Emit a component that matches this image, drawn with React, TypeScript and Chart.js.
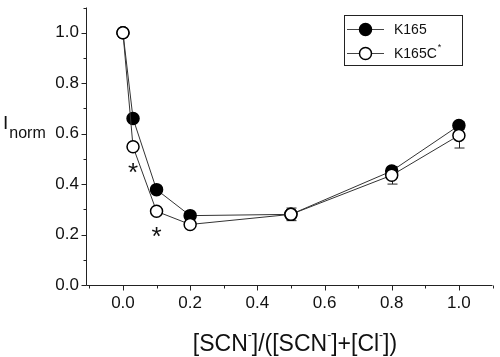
import React, { useEffect, useRef } from "react";
import { Chart, registerables } from "chart.js";
Chart.register(...registerables);

const xValues = [0, 0.03, 0.1, 0.2, 0.5, 0.8, 1.0];
const k165Values = [1.0, 0.66, 0.378, 0.275, 0.28, 0.452, 0.632];
const k165cValues = [1.0, 0.548, 0.292, 0.24, 0.28, 0.435, 0.593];
const k165Errors = [0, 0, 0, 0, 0.01, 0.015, 0.015];
const k165cErrors = [0, 0, 0, 0, 0.025, 0.035, 0.05];
const seriesNames = ["K165", "K165C"];
const xTickValues = [0, 0.2, 0.4, 0.6, 0.8, 1.0];
const yTickValues = [0, 0.2, 0.4, 0.6, 0.8, 1.0];
const minorTickValues = [-0.1, 0, 0.1, 0.2, 0.3, 0.4, 0.5, 0.6, 0.7, 0.8, 0.9, 1.0, 1.1];
const asteriskX = [0.03, 0.1];

const FONT = "'Liberation Sans', Arial, sans-serif";
const INK = "#111";

const overlay = {
  id: "overlay",
  beforeDatasetsDraw(chart: any) {
    const { ctx, chartArea, scales } = chart;
    const xs = scales.x;
    const ys = scales.y;
    ctx.save();
    ctx.strokeStyle = "#222";
    ctx.lineWidth = 1;
    const ax = Math.round(chartArea.left) + 0.5;
    const ay = Math.round(chartArea.bottom) + 0.5;
    ctx.beginPath();
    ctx.moveTo(ax, chartArea.top);
    ctx.lineTo(ax, ay);
    ctx.lineTo(chartArea.right, ay);
    ctx.stroke();
    minorTickValues.forEach((v) => {
      const major = Math.abs(Math.round(v * 10) % 2) === 0;
      const len = major ? 5 : 3;
      if (v >= ys.min - 1e-9 && v <= ys.max + 1e-9) {
        const py = Math.round(ys.getPixelForValue(v)) + 0.5;
        ctx.beginPath();
        ctx.moveTo(ax, py);
        ctx.lineTo(ax - len, py);
        ctx.stroke();
      }
      if (v >= xs.min && v <= xs.max) {
        const px = Math.round(xs.getPixelForValue(v)) + 0.5;
        ctx.beginPath();
        ctx.moveTo(px, ay);
        ctx.lineTo(px, ay + len);
        ctx.stroke();
      }
    });
    const drawErr = (vals: number[], errs: number[]) => {
      xValues.forEach((x, i) => {
        const e = errs[i];
        if (!e) return;
        const px = Math.round(xs.getPixelForValue(x)) + 0.5;
        const top = ys.getPixelForValue(vals[i] + e);
        const bot = ys.getPixelForValue(vals[i] - e);
        ctx.beginPath();
        ctx.moveTo(px, top);
        ctx.lineTo(px, bot);
        ctx.moveTo(px - 5, top);
        ctx.lineTo(px + 5, top);
        ctx.moveTo(px - 5, bot);
        ctx.lineTo(px + 5, bot);
        ctx.stroke();
      });
    };
    drawErr(k165Values, k165Errors);
    drawErr(k165cValues, k165cErrors);
    ctx.restore();
  },
  afterDraw(chart: any) {
    const { ctx, chartArea, scales } = chart;
    const xs = scales.x;
    const ys = scales.y;
    ctx.save();
    ctx.fillStyle = INK;
    // asterisks
    ctx.font = `26px ${FONT}`;
    ctx.textAlign = "center";
    ctx.textBaseline = "alphabetic";
    asteriskX.forEach((ax) => {
      const i = xValues.indexOf(ax);
      const px = xs.getPixelForValue(ax);
      const py = ys.getPixelForValue(k165cValues[i]) + 19 + 15;
      ctx.fillText("*", px, py);
    });
    // x title with superscript minus signs
    const parts: [string, boolean][] = [
      ["[SCN", false], ["-", true], ["]/([SCN", false], ["-", true], ["]+[Cl", false], ["-", true], ["])", false],
    ];
    const mainF = `23px ${FONT}`;
    const supF = `12px ${FONT}`;
    let total = 0;
    parts.forEach(([t, sup]) => {
      ctx.font = sup ? supF : mainF;
      total += ctx.measureText(t).width;
    });
    let cx = 295 - total / 2;
    const baseY = 351;
    ctx.textAlign = "left";
    parts.forEach(([t, sup]) => {
      ctx.font = sup ? supF : mainF;
      ctx.fillText(t, cx, sup ? baseY - 12 : baseY);
      cx += ctx.measureText(t).width;
    });
    // y title
    ctx.font = `19px ${FONT}`;
    ctx.fillText("I", 3, 129);
    const iw = ctx.measureText("I").width;
    ctx.font = `16px ${FONT}`;
    ctx.fillText("norm", 3 + iw + 1, 138);
    // legend
    const bx = 344.5, by = 15.5, bw = 118, bh = 50;
    ctx.strokeStyle = "#222";
    ctx.lineWidth = 1;
    ctx.fillStyle = "#fff";
    ctx.fillRect(bx, by, bw, bh);
    ctx.strokeRect(bx, by, bw, bh);
    const rows = [
      { name: seriesNames[0], fill: "#000", y: 29, star: false },
      { name: seriesNames[1], fill: "#fff", y: 53, star: true },
    ];
    rows.forEach((r) => {
      ctx.strokeStyle = "#444";
      ctx.lineWidth = 1;
      ctx.beginPath();
      ctx.moveTo(347, r.y + 0.5);
      ctx.lineTo(384, r.y + 0.5);
      ctx.stroke();
      ctx.beginPath();
      ctx.arc(365.5, r.y + 0.5, 6, 0, Math.PI * 2);
      ctx.fillStyle = r.fill;
      ctx.fill();
      ctx.strokeStyle = "#000";
      ctx.lineWidth = 1.5;
      ctx.stroke();
      ctx.fillStyle = INK;
      ctx.font = `14px ${FONT}`;
      ctx.textBaseline = "middle";
      ctx.fillText(r.name, 394, r.y + 1);
      if (r.star) {
        const w = ctx.measureText(r.name).width;
        ctx.font = `9px ${FONT}`;
        ctx.fillText("*", 394 + w + 1, r.y - 5);
      }
    });
    ctx.restore();
  },
};

export default function App() {
  const ref = useRef<HTMLCanvasElement>(null);
  useEffect(() => {
    if (!ref.current) return;
    const chart = new Chart(ref.current, {
      type: "scatter",
      data: {
        datasets: [
          {
            label: seriesNames[1],
            data: xValues.map((x, i) => ({ x, y: k165cValues[i] })),
            showLine: true,
            borderColor: "#333",
            borderWidth: 1,
            pointRadius: 6,
            pointHoverRadius: 6,
            pointBackgroundColor: "#fff",
            pointBorderColor: "#000",
            pointBorderWidth: 1.5,
            order: 1,
          },
          {
            label: seriesNames[0],
            data: xValues.map((x, i) => ({ x, y: k165Values[i] })),
            showLine: true,
            borderColor: "#333",
            borderWidth: 1,
            pointRadius: 6,
            pointHoverRadius: 6,
            pointBackgroundColor: "#000",
            pointBorderColor: "#000",
            pointBorderWidth: 1.5,
            order: 2,
          },
        ],
      },
      options: {
        responsive: false,
        animation: false,
        events: [],
        layout: { padding: { top: 3, left: 0, right: 0, bottom: 0 } },
        plugins: { legend: { display: false }, tooltip: { enabled: false } },
        scales: {
          x: {
            type: "linear",
            min: -0.11,
            max: 1.1,
            afterBuildTicks: (s: any) => {
              s.ticks = xTickValues.map((v) => ({ value: v }));
            },
            afterFit: (s: any) => {
              s.height = 72;
              s.paddingLeft = 0;
              s.paddingRight = 0;
            },
            ticks: {
              callback: (v: any) => Number(v).toFixed(1),
              font: { family: FONT, size: 17 },
              color: INK,
              padding: 8,
              maxRotation: 0,
              autoSkip: false,
            },
            grid: { display: false, drawTicks: false },
            border: { display: false },
          },
          y: {
            type: "linear",
            min: 0,
            max: 1.1,
            afterBuildTicks: (s: any) => {
              s.ticks = yTickValues.map((v) => ({ value: v }));
            },
            afterFit: (s: any) => {
              s.width = 86;
              s.paddingTop = 0;
              s.paddingBottom = 0;
            },
            ticks: {
              callback: (v: any) => Number(v).toFixed(1),
              font: { family: FONT, size: 17 },
              color: INK,
              padding: 7,
              autoSkip: false,
            },
            grid: { display: false, drawTicks: false },
            border: { display: false },
          },
        },
      },
      plugins: [overlay],
    });
    return () => chart.destroy();
  }, []);
  return (
    <div style={{ position: "absolute", left: 0, top: 0, width: 500, height: 357, background: "#fff" }}>
      <canvas ref={ref} width={500} height={357} style={{ display: "block" }} />
    </div>
  );
}
